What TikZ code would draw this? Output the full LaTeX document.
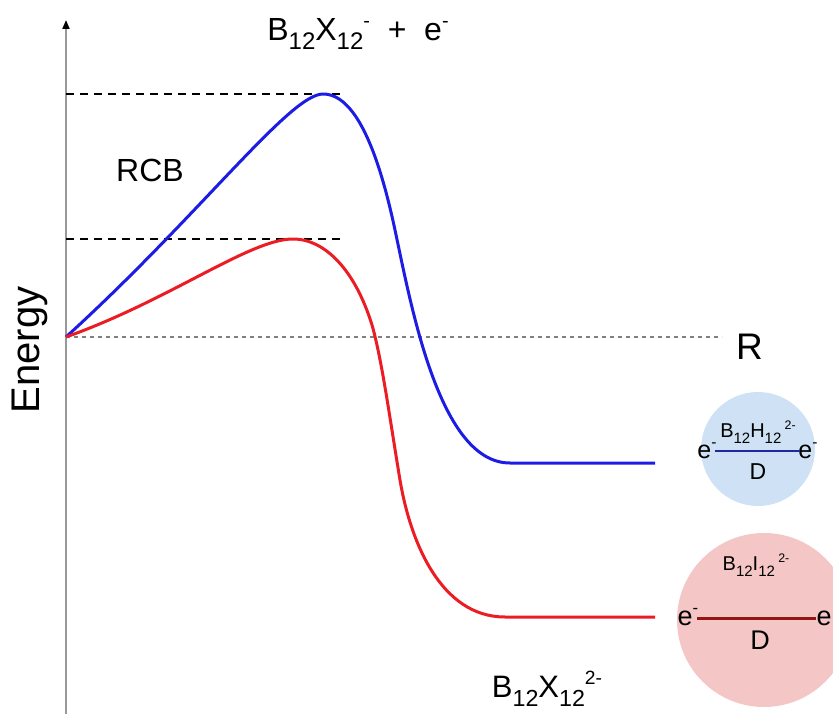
\documentclass[tikz,border=0pt]{standalone}
\usepackage{fontspec}
\setmainfont{Liberation Sans}
\usetikzlibrary{arrows.meta}
\definecolor{curveblue}{RGB}{28,28,228}
\definecolor{curvered}{RGB}{236,28,36}
\definecolor{fillblue}{RGB}{206,225,245}
\definecolor{fillred}{RGB}{245,198,198}
\definecolor{bondblue}{RGB}{30,40,160}
\definecolor{bondred}{RGB}{150,20,24}
\newcommand\lo[1]{\raisebox{-0.28em}{\scalebox{0.75}{#1}}}
\newcommand\hi[1]{\raisebox{0.42em}{\scalebox{0.62}{#1}}}
\begin{document}
\begin{tikzpicture}[x=1pt, y=-1pt,
  curve/.style={line width=3pt, line join=round},
  level/.style={black, line width=2pt, dash pattern=on 8pt off 6pt},
  lbl/.style={inner sep=0pt, font=\fontsize{#1}{#1}\selectfont},
  lbl/.default=25,
  blob/.style={circle, inner sep=0pt, draw=none}
]
\useasboundingbox (0,0) rectangle (833,714);

% axes
\coordinate (org) at (66,337);
\coordinate (top) at (66,20);
\coordinate (bot) at (66,714);
\coordinate (rend) at (722,337);
\draw[gray!80, line width=2pt, -{Triangle[black, length=9pt, width=7pt]}] (bot) -- (top);
\draw[gray, line width=1.5pt, dash pattern=on 4pt off 4pt] (org) -- (rend);
\node[lbl=37, anchor=west] (r) at (736,347) {R};
\node[lbl=40, rotate=90] (energy) at (30,350) {Energy};

% barrier levels
\coordinate (hiL) at (66,94);  \coordinate (hiR) at (345,94);
\coordinate (loL) at (66,239); \coordinate (loR) at (343,239);
\draw[level] (hiL) -- (hiR);
\draw[level] (loL) -- (loR);
\node[lbl=32] (rcb) at (150,170) {RCB};

% potential curves
\draw[curve, curveblue] (org) .. controls (200,215) and (290,94) .. (323,94)
  .. controls (355,94) and (378,150) .. (395,230)
  .. controls (412,310) and (440,463) .. (510,463) -- (655,463);
\draw[curve, curvered] (org) .. controls (170,300) and (250,239) .. (293,239)
  .. controls (325,239) and (355,270) .. (372,325)
  .. controls (382,360) and (390,420) .. (400,480)
  .. controls (410,540) and (440,617) .. (505,617) -- (655,617);

% species
\node[lbl=32] (react) at (358,34) {B\lo{12}X\lo{12}\hi{-}\ \ + \ e\hi{-}};
\node[lbl=31] (prod) at (547,689) {B\lo{12}X\lo{12}\hi{2-}};

% blue dimer
\node[blob, fill=fillblue, minimum size=114pt] (hblob) at (758,449) {};
\node[lbl=20] (hname) at (758,432) {B\lo{12}H\lo{12}\,\hi{2-}};
\node[lbl=25] (he1) at (707,451) {e\hi{-}};
\node[lbl=25] (he2) at (808,451) {e\hi{-}};
\coordinate (hb1) at (715,451);
\coordinate (hb2) at (800,451);
\draw[bondblue, line width=2.5pt] (hb1) -- (hb2);
\node[lbl=23] (hd) at (758,472) {D};

% red dimer
\node[blob, fill=fillred, minimum size=174pt] (iblob) at (764,620) {};
\node[lbl=20] (iname) at (756,565) {B\lo{12}I\lo{12}\,\hi{2-}};
\node[lbl=27] (ie1) at (688,617) {e\hi{-}};
\node[lbl=27] (ie2) at (824,618) {e};
\coordinate (ib1) at (697,618);
\coordinate (ib2) at (816,618);
\draw[bondred, line width=3pt] (ib1) -- (ib2);
\node[lbl=27] (id) at (760,640) {D};
\end{tikzpicture}
\end{document}
